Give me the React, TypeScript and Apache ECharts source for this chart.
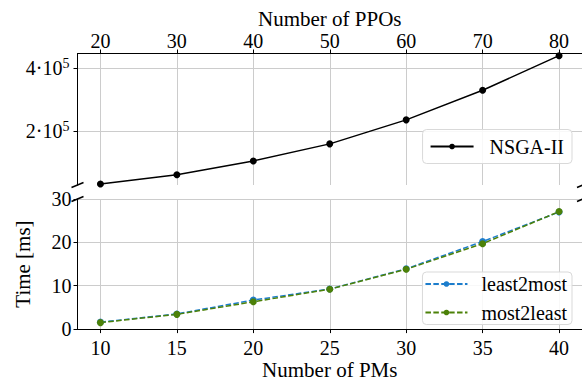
import React, { useEffect, useRef } from "react";
import * as echarts from "echarts";

const ppos = [20, 30, 40, 50, 60, 70, 80];
const nsga = [29000, 59000, 103000, 158000, 235000, 330000, 441000];
const pms = [10, 15, 20, 25, 30, 35, 40];
const least2most = [1.6, 3.5, 6.7, 9.25, 13.9, 20.2, 27.0];
const most2least = [1.5, 3.4, 6.3, 9.2, 13.8, 19.7, 27.1];
const topTicks = [20, 30, 40, 50, 60, 70, 80];
const bottomTicks = [10, 15, 20, 25, 30, 35, 40];
const topYTicks = [200000, 400000];
const bottomYTicks = [0, 10, 20, 30];

const FONT = "Liberation Serif";
const BLUE = "#1c7dcc";
const GREEN = "#4c8108";
const GRID = "#cccccc";

export default function App() {
  const ref = useRef<HTMLDivElement>(null);
  useEffect(() => {
    const chart = echarts.init(ref.current!, null, { renderer: "svg" });
    const axLine = { show: true, lineStyle: { color: "#000", width: 1 } };
    const tick = { show: true, length: 4, lineStyle: { color: "#000", width: 1 } };
    const split = { show: true, lineStyle: { color: GRID, width: 1 } };
    const lbl = { fontFamily: FONT, fontSize: 20, color: "#000" };
    const breakLine = (cx: number, cy: number) => ({
      type: "line",
      shape: { x1: cx - 6, y1: cy + 2.5, x2: cx + 6, y2: cy - 2.5 },
      style: { stroke: "#000", lineWidth: 1.5 },
      z: 100,
    });
    chart.setOption({
      animation: false,
      textStyle: { fontFamily: FONT },
      grid: [
        { left: 77.5, top: 53.5, width: 505.5, height: 131.5 },
        { left: 77.5, top: 199, width: 505.5, height: 132 },
      ],
      xAxis: [
        {
          type: "value",
          gridIndex: 0,
          position: "top",
          min: 17,
          max: 83,
          name: "Number of PPOs",
          nameLocation: "middle",
          nameGap: 24,
          nameTextStyle: { fontFamily: FONT, fontSize: 21, color: "#000" },
          axisLine: axLine,
          axisTick: { ...tick, customValues: topTicks },
          axisLabel: { ...lbl, margin: 2.5, customValues: topTicks },
          splitLine: split,
        },
        {
          type: "value",
          gridIndex: 1,
          position: "bottom",
          min: 8.5,
          max: 41.5,
          name: "Number of PMs",
          nameLocation: "middle",
          nameGap: 29,
          nameTextStyle: { fontFamily: FONT, fontSize: 21, color: "#000" },
          axisLine: axLine,
          axisTick: { ...tick, customValues: bottomTicks },
          axisLabel: { ...lbl, margin: 9, customValues: bottomTicks },
          splitLine: split,
        },
      ],
      yAxis: [
        {
          type: "value",
          gridIndex: 0,
          min: 26000,
          max: 448000,
          axisLine: axLine,
          axisTick: { ...tick, customValues: topYTicks },
          axisLabel: {
            ...lbl,
            margin: 8,
            customValues: topYTicks,
            formatter: (v: number) => `{m|${v / 100000}·10}{s|5}`,
            rich: {
              m: { fontFamily: FONT, fontSize: 20, color: "#000" },
              s: { fontFamily: FONT, fontSize: 14, color: "#000", padding: [0, 0, 9, 0] },
            },
          },
          splitLine: split,
        },
        {
          type: "value",
          gridIndex: 1,
          min: 0,
          max: 30,
          name: "Time [ms]",
          nameLocation: "middle",
          nameRotate: 90,
          nameGap: 44,
          nameTextStyle: { fontFamily: FONT, fontSize: 21, color: "#000" },
          axisLine: axLine,
          axisTick: { ...tick, customValues: bottomYTicks },
          axisLabel: { ...lbl, margin: 6, customValues: bottomYTicks },
          splitLine: split,
        },
      ],
      legend: [
        {
          data: ["NSGA-II"],
          right: 10,
          top: 129.5,
          padding: [7, 8, 7, 7],
          itemWidth: 43,
          itemHeight: 7,
          borderColor: "#d9d9d9",
          borderWidth: 1,
          borderRadius: 4,
          backgroundColor: "rgba(255,255,255,0.85)",
          textStyle: { fontFamily: FONT, fontSize: 20, color: "#000", lineHeight: 20, padding: [0, 0, 0, 11] },
        },
        {
          data: ["least2most", "most2least"],
          orient: "vertical",
          right: 10,
          top: 272,
          padding: [2, 5, 2, 2],
          itemGap: 8.5,
          itemWidth: 42,
          itemHeight: 7,
          borderColor: "#d9d9d9",
          borderWidth: 1,
          borderRadius: 4,
          backgroundColor: "rgba(255,255,255,0.85)",
          textStyle: { fontFamily: FONT, fontSize: 20, color: "#000", lineHeight: 20, padding: [0, 0, 0, 9] },
        },
      ],
      series: [
        {
          name: "NSGA-II",
          type: "line",
          xAxisIndex: 0,
          yAxisIndex: 0,
          data: ppos.map((x, i) => [x, nsga[i]]),
          symbol: "circle",
          symbolSize: 7,
          lineStyle: { color: "#000", width: 1.5 },
          itemStyle: { color: "#000" },
        },
        {
          name: "least2most",
          type: "line",
          xAxisIndex: 1,
          yAxisIndex: 1,
          data: pms.map((x, i) => [x, least2most[i]]),
          symbol: "circle",
          symbolSize: 7,
          lineStyle: { color: BLUE, width: 1.5, type: [5.5, 2.4] },
          itemStyle: { color: BLUE },
        },
        {
          name: "most2least",
          type: "line",
          xAxisIndex: 1,
          yAxisIndex: 1,
          data: pms.map((x, i) => [x, most2least[i]]),
          symbol: "circle",
          symbolSize: 7,
          lineStyle: { color: GREEN, width: 1.5, type: [5.5, 2.4] },
          itemStyle: { color: GREEN },
        },
      ],
      graphic: [
        breakLine(77.5, 185),
        breakLine(77.5, 199),
        breakLine(583, 185),
        breakLine(583, 199),
      ],
    });
    return () => chart.dispose();
  }, []);
  return (
    <div
      ref={ref}
      style={{ position: "fixed", left: 0, top: 0, width: 582, height: 381, background: "#fff" }}
    />
  );
}
